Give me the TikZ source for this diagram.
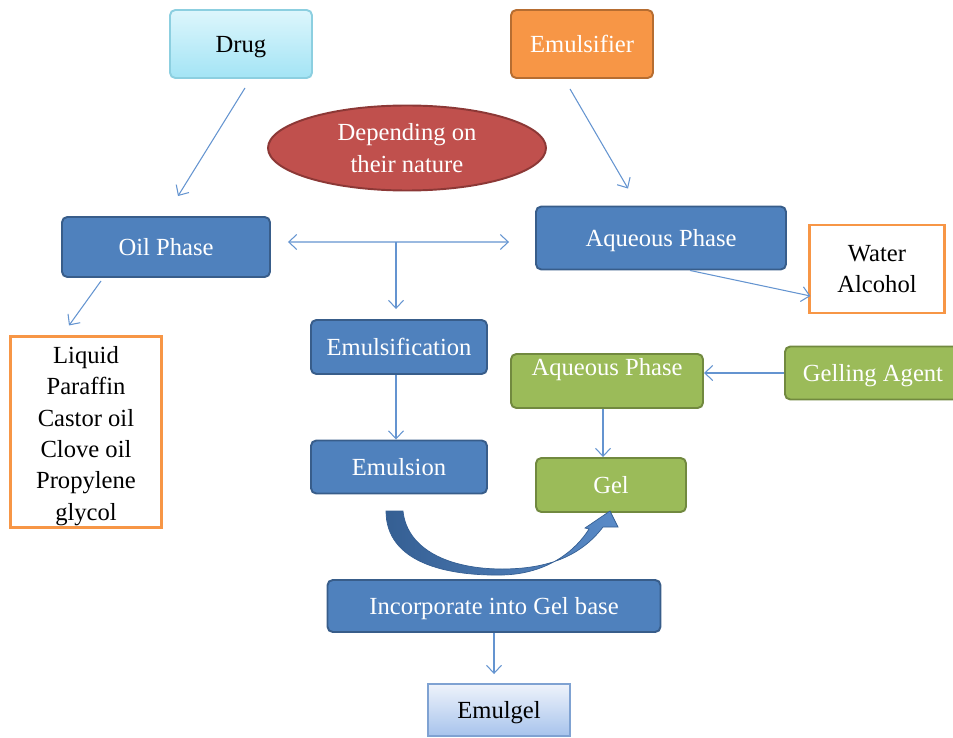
\documentclass[tikz,border=0pt]{standalone}
\usepackage{fontspec}
\setmainfont{Liberation Serif}
\usetikzlibrary{arrows.meta,shapes.geometric,calc}

\definecolor{phaseblue}{HTML}{4F81BD}
\definecolor{phaseline}{HTML}{385D8A}
\definecolor{gelgreen}{HTML}{9BBB59}
\definecolor{gelline}{HTML}{71893F}
\definecolor{emorange}{HTML}{F79646}
\definecolor{emline}{HTML}{B66D31}
\definecolor{natred}{HTML}{C0504D}
\definecolor{natline}{HTML}{8C3836}
\definecolor{drugtop}{HTML}{DDF6FC}
\definecolor{drugbot}{HTML}{A3E4F5}
\definecolor{drugline}{HTML}{8CCFE0}
\definecolor{gelltop}{HTML}{EEF3FB}
\definecolor{gellbot}{HTML}{A7C3EC}
\definecolor{gellline}{HTML}{7FA2D2}
\definecolor{linkblue}{HTML}{6494D0}
\definecolor{bigdark}{HTML}{355F93}
\definecolor{biglight}{HTML}{5A8BC8}

\begin{document}
\begin{tikzpicture}[
  every node/.style={font=\fontsize{14}{17.8}\selectfont},
  box/.style={rectangle, rounded corners=3pt, line width=1.1pt, align=center, text=white,
    text height=0.40cm, text depth=0.06cm},
  stepbox/.style={box, fill=phaseblue, draw=phaseline},
  gelbox/.style={box, fill=gelgreen, draw=gelline},
  listbox/.style={rectangle, draw=emorange, line width=1.2pt, fill=white, align=center},
  link/.style={->, draw=linkblue, line width=0.6pt, >={Straight Barb[length=1.6mm,width=3mm]}}
]
\clip (0,0) rectangle (19.06,-14.76);

% inputs
\node[box, top color=drugtop, bottom color=drugbot, draw=drugline, text=black,
  minimum width=2.84cm, minimum height=1.36cm] (drug) at (4.82,-0.88) {Drug};
\node[box, fill=emorange, draw=emline, minimum width=2.84cm, minimum height=1.36cm]
  (emulsifier) at (11.64,-0.88) {Emulsifier};
\node[ellipse, fill=natred, draw=natline, line width=1.1pt, text=white, align=center,
  minimum width=5.56cm, minimum height=1.70cm, inner sep=0pt]
  (nature) at (8.14,-2.96) {Depending on\\their nature};

% phases
\node[stepbox, minimum width=4.16cm, minimum height=1.2cm] (oil) at (3.32,-4.94) {Oil Phase};
\node[stepbox, minimum width=5.0cm, minimum height=1.26cm] (aqueous) at (13.22,-4.76) {Aqueous Phase};
\node[listbox, minimum width=2.7cm, minimum height=1.76cm,
  font=\fontsize{14}{18.1}\selectfont] (solvents) at (17.54,-5.38) {Water\\Alcohol};
\node[listbox, minimum width=3.02cm, minimum height=3.82cm, inner ysep=0pt] (oils) at (1.72,-8.64)
  {\rule{0pt}{0.5cm}Liquid\\Paraffin\\Castor oil\\Clove oil\\Propylene\\glycol};

% emulsion and gel
\node[stepbox, minimum width=3.52cm, minimum height=1.08cm] (emulsification) at (7.98,-6.94) {Emulsification};
\node[stepbox, minimum width=3.52cm, minimum height=1.06cm] (emulsion) at (7.98,-9.34) {Emulsion};
\node[gelbox, minimum width=3.84cm, minimum height=1.08cm, text depth=0.62cm, inner ysep=0pt]
  (aqgel) at (12.14,-7.62) {Aqueous Phase};
\node[gelbox, minimum width=3.52cm, minimum height=1.06cm] (gelling) at (17.46,-7.46) {Gelling Agent};
\node[gelbox, minimum width=3.0cm, minimum height=1.08cm] (gel) at (12.22,-9.70) {Gel};
\node[stepbox, minimum width=6.66cm, minimum height=1.04cm] (incorporate) at (9.88,-12.12) {Incorporate into Gel base};
\node[box, top color=gelltop, bottom color=gellbot, draw=gellline, text=black, rounded corners=0pt,
  minimum width=2.84cm, minimum height=1.04cm] (emulgel) at (9.98,-14.2) {Emulgel};

\coordinate (split) at (7.92,-4.84);

\draw[link] ([xshift=0.08cm,yshift=-0.18cm]drug.south) -- ([xshift=0.24cm,yshift=0.4cm]oil.north);
\draw[link] ([xshift=-0.24cm,yshift=-0.2cm]emulsifier.south) -- ([xshift=-0.66cm,yshift=0.34cm]aqueous.north);
\draw[link, <->] ([xshift=0.34cm,yshift=0.1cm]oil.east) -- ([xshift=-0.52cm,yshift=-0.08cm]aqueous.west);
\draw[link, shorten >=0.2cm] (split) -- (split |- emulsification.north);
\draw[link] ([xshift=-1.3cm,yshift=-0.06cm]oil.south) -- ([xshift=-0.34cm,yshift=0.2cm]oils.north);
\draw[link] ([xshift=0.58cm]aqueous.south) -- ([xshift=0.04cm,yshift=-0.54cm]solvents.west);
\draw[link] ([xshift=-0.06cm]emulsification.south) -- ([xshift=-0.06cm]emulsion.north);
\draw[link] (gelling.west) -- (gelling.west -| aqgel.east);
\draw[link] ([xshift=-0.08cm]aqgel.south) -- ([xshift=-0.08cm]aqgel.south |- gel.north);
\draw[link, shorten >=0.18cm] (incorporate.south) -- (incorporate.south |- emulgel.north);

% big curved arrow from emulsion to gel
\draw[draw=bigdark, line width=0.4pt, left color=bigdark, right color=biglight]
  (7.72,-10.22) .. controls (7.72,-11.24) and (8.90,-11.52) .. (10.04,-11.50)
  .. controls (10.96,-11.48) and (11.52,-11.00) .. (11.78,-10.58)
  -- (11.70,-10.56) -- (12.20,-10.22) -- (12.36,-10.54) -- (12.06,-10.54)
  .. controls (11.62,-11.12) and (10.96,-11.38) .. (10.04,-11.38)
  .. controls (9.00,-11.38) and (8.14,-11.00) .. (8.06,-10.22) -- cycle;
\end{tikzpicture}
\end{document}
